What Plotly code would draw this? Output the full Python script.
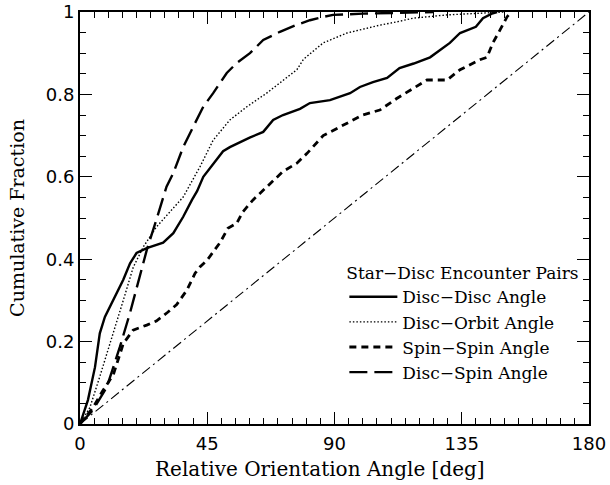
import plotly.graph_objects as go

# Disc-Disc angle (solid)
dd_x = [0, 2.8, 5.3, 7, 8.8, 11.8, 15.3, 17.7, 20, 23.6, 29.4, 33, 36.5, 39.6, 41.4, 43.6, 47.1,
        50.6, 53, 56.6, 60, 64.8, 68.3, 71.8, 77.8, 81.3, 88.4, 95.5, 99, 103.6, 108.6, 113,
        118, 123.8, 130.8, 134.4, 140, 142.5, 146, 147.5]
dd_y = [0, 0.058, 0.138, 0.22, 0.26, 0.30, 0.35, 0.39, 0.415, 0.427, 0.44, 0.463, 0.503, 0.544,
        0.565, 0.60, 0.63, 0.662, 0.672, 0.684, 0.695, 0.709, 0.738, 0.75, 0.765, 0.779, 0.786,
        0.803, 0.818, 0.83, 0.84, 0.864, 0.875, 0.89, 0.925, 0.949, 0.964, 0.985, 0.997, 1.0]

# Disc-Orbit angle (dotted)
do_x = [0, 3.5, 7, 11.8, 15.3, 18.8, 22.4, 27, 31.8, 36.5, 42.4, 47.1, 53, 59, 66, 71.8, 76.7,
        79, 86, 94.4, 101.5, 106, 112, 117.8, 129.8, 141.4, 150]
do_y = [0, 0.04, 0.115, 0.22, 0.30, 0.38, 0.43, 0.478, 0.515, 0.551, 0.624, 0.689, 0.738, 0.77,
        0.803, 0.835, 0.86, 0.885, 0.925, 0.949, 0.961, 0.968, 0.976, 0.985, 0.993, 0.997, 1.0]

# Spin-Spin angle (short dashes)
ss_x = [0, 4.6, 8, 11.8, 15.3, 18.8, 23.6, 27, 30.8, 34.2, 37.8, 40.7, 42.4, 45, 49.5, 52.3,
        55.4, 57.6, 61.2, 63.6, 66, 71.8, 76.7, 80.3, 86, 93, 100, 106, 112, 122.7, 129.8,
        134.4, 141.4, 143.9, 146, 148.5, 151, 152.5]
ss_y = [0, 0.04, 0.08, 0.12, 0.195, 0.228, 0.24, 0.25, 0.27, 0.29, 0.325, 0.366, 0.381, 0.398,
        0.44, 0.475, 0.487, 0.515, 0.544, 0.56, 0.576, 0.613, 0.633, 0.657, 0.70, 0.726, 0.75,
        0.762, 0.79, 0.835, 0.835, 0.86, 0.884, 0.89, 0.925, 0.956, 0.988, 1.0]

# Disc-Spin angle (long dashes)
ds_x = [0, 4.6, 9.5, 14.1, 17.7, 21.2, 23.6, 27.2, 30.6, 33, 36.5, 40, 43.6, 47.1, 51.9, 55.4,
        60.1, 64.8, 70.7, 76.7, 81.3, 86, 89.5, 100, 113, 125]
ds_y = [0, 0.034, 0.09, 0.187, 0.27, 0.357, 0.422, 0.50, 0.576, 0.609, 0.672, 0.721, 0.77, 0.803,
        0.852, 0.876, 0.90, 0.932, 0.952, 0.969, 0.98, 0.988, 0.993, 0.996, 0.998, 1.0]

# isotropic reference line
iso_x = [0, 180]
iso_y = [0, 1]

x_ticks = [0, 45, 90, 135, 180]
y_ticks = [0, 0.2, 0.4, 0.6, 0.8, 1]
y_tick_labels = ["0", "0.2", "0.4", "0.6", "0.8", "1"]

SERIF = "DejaVu Serif"
SANS = "DejaVu Sans"

fig = go.Figure()
fig.add_trace(go.Scatter(x=iso_x, y=iso_y, mode="lines", showlegend=False,
                         line=dict(color="black", width=1.1, dash="10px,4px,2px,4px")))
fig.add_trace(go.Scatter(x=dd_x, y=dd_y, mode="lines", name="Disc\u2212Disc Angle",
                         legendgroup="a", line=dict(color="black", width=2.4)))
fig.add_trace(go.Scatter(x=do_x, y=do_y, mode="lines", name="Disc\u2212Orbit Angle",
                         legendgroup="b", line=dict(color="black", width=1.4, dash="1.5px,2px")))
fig.add_trace(go.Scatter(x=ss_x, y=ss_y, mode="lines", name="Spin\u2212Spin Angle",
                         legendgroup="c", line=dict(color="black", width=2.8, dash="7px,5px")))
fig.add_trace(go.Scatter(x=ds_x, y=ds_y, mode="lines", name="Disc\u2212Spin Angle",
                         legendgroup="d", line=dict(color="black", width=2.4, dash="18px,7px")))

axis_common = dict(
    showline=True, linecolor="black", linewidth=2, mirror="ticks",
    ticks="inside", ticklen=12, tickwidth=1.2, tickcolor="black",
    showgrid=False, zeroline=False, automargin=False,
    tickfont=dict(family=SANS, size=18, color="black"),
)

fig.update_xaxes(range=[0, 180], tickvals=x_ticks, ticklabelstandoff=2,
                 minor=dict(ticks="inside", ticklen=6, dtick=5, tickwidth=1, tickcolor="black"),
                 **axis_common)
fig.update_yaxes(range=[0, 1], tickvals=y_ticks, ticktext=y_tick_labels,
                 minor=dict(ticks="inside", ticklen=6, dtick=0.05, tickwidth=1, tickcolor="black"),
                 title=dict(text="Cumulative Fraction",
                            font=dict(family=SERIF, size=19, color="black"), standoff=16),
                 **axis_common)

fig.add_annotation(text="Relative Orientation Angle [deg]", xref="paper", yref="paper",
                   x=0.4715, y=-0.109, xanchor="center", yanchor="middle", showarrow=False,
                   font=dict(family=SERIF, size=20, color="black"))

fig.update_layout(
    width=610, height=485,
    margin=dict(l=80, r=21, t=12, b=61, autoexpand=False),
    paper_bgcolor="white", plot_bgcolor="white",
    font=dict(color="black"),
    legend=dict(
        title=dict(text="Star\u2212Disc Encounter Pairs", font=dict(family=SERIF, size=17, color="black")),
        font=dict(family=SERIF, size=17, color="black"),
        x=0.985, xanchor="right", y=0.405, yanchor="top",
        bgcolor="rgba(0,0,0,0)", itemwidth=48, tracegroupgap=0,
        traceorder="grouped",
    ),
)

fig.write_html("out.html", config={"displayModeBar": False},
               post_script="document.body.style.margin='0';document.body.style.overflow='hidden';")
